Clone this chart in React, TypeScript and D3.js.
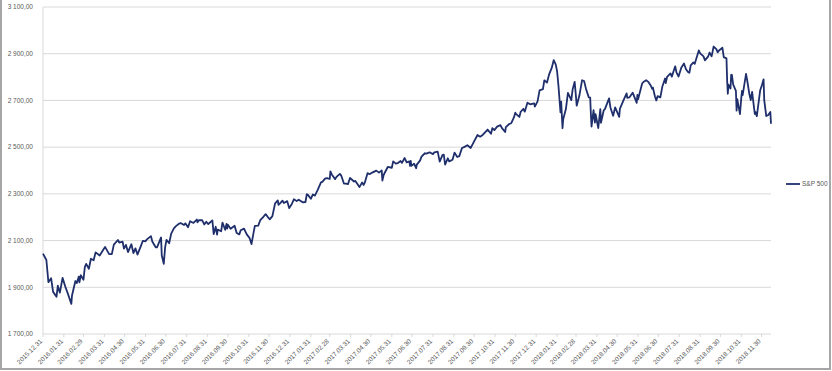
import React from "react";
import * as d3 from "d3";

// S&P 500 closes (selected trading days)
const seriesName = "S&P 500";
const start: [string, number] = ["2015-12-31", 2043.94];

const y2016: [string, number][] = [
  ["01-05", 2016.71], ["01-08", 1922.03], ["01-12", 1938.68], ["01-15", 1880.33], ["01-20", 1859.33], ["01-22", 1906.9], ["01-25", 1877.08], ["01-29", 1940.24],
  ["02-02", 1903.03], ["02-05", 1880.05], ["02-11", 1829.08], ["02-12", 1864.78], ["02-17", 1926.82], ["02-19", 1917.78], ["02-22", 1945.5], ["02-23", 1921.27], ["02-25", 1951.7], ["02-29", 1932.23],
  ["03-02", 1986.45], ["03-04", 1999.99], ["03-08", 1979.26], ["03-11", 2022.19], ["03-15", 2015.93], ["03-18", 2049.58], ["03-24", 2035.94], ["03-30", 2063.95],
  ["04-01", 2072.78], ["04-07", 2041.91], ["04-11", 2041.99], ["04-14", 2082.78], ["04-20", 2102.4], ["04-22", 2091.58], ["04-27", 2095.15], ["04-29", 2065.3],
  ["05-02", 2081.43], ["05-05", 2050.63], ["05-10", 2084.39], ["05-13", 2046.61], ["05-16", 2066.66], ["05-19", 2040.04], ["05-24", 2076.06], ["05-27", 2099.06], ["05-31", 2096.95],
  ["06-02", 2105.26], ["06-08", 2119.12], ["06-10", 2096.07], ["06-15", 2071.5], ["06-17", 2071.22], ["06-23", 2113.32], ["06-24", 2037.41], ["06-27", 2000.54], ["06-29", 2070.77],
  ["07-01", 2102.95], ["07-05", 2088.55], ["07-08", 2129.9], ["07-12", 2152.14], ["07-15", 2161.74], ["07-20", 2173.02], ["07-22", 2175.03], ["07-27", 2166.58], ["07-29", 2173.6],
  ["08-02", 2157.03], ["08-05", 2182.87], ["08-10", 2175.49], ["08-15", 2190.15], ["08-16", 2178.15], ["08-18", 2187.02], ["08-23", 2186.9], ["08-26", 2169.04], ["08-29", 2180.38],
  ["09-01", 2170.86], ["09-07", 2186.16], ["09-09", 2127.81], ["09-12", 2159.04], ["09-14", 2125.77], ["09-15", 2147.26], ["09-20", 2139.76], ["09-22", 2177.18], ["09-26", 2146.1], ["09-28", 2171.37], ["09-29", 2151.13], ["09-30", 2168.27],
  ["10-04", 2150.49], ["10-10", 2163.66], ["10-13", 2132.55], ["10-17", 2126.5], ["10-19", 2144.29], ["10-24", 2151.33], ["10-28", 2126.41],
  ["11-01", 2111.72], ["11-04", 2085.18], ["11-07", 2131.52], ["11-09", 2163.26], ["11-14", 2164.2], ["11-17", 2187.12], ["11-22", 2202.94], ["11-25", 2213.35], ["11-28", 2201.72],
  ["12-01", 2191.08], ["12-05", 2204.71], ["12-09", 2259.53], ["12-13", 2271.72], ["12-14", 2253.28], ["12-16", 2258.07], ["12-20", 2270.76], ["12-22", 2260.96], ["12-27", 2268.88], ["12-30", 2238.83],
];

const y2017: [string, number][] = [
  ["01-03", 2257.83], ["01-06", 2276.98], ["01-10", 2268.9], ["01-13", 2274.64], ["01-19", 2263.69], ["01-23", 2265.2], ["01-25", 2298.37], ["01-27", 2294.69], ["01-31", 2278.87],
  ["02-03", 2297.42], ["02-06", 2292.56], ["02-10", 2316.1], ["02-15", 2349.25], ["02-17", 2351.16], ["02-21", 2365.38], ["02-24", 2367.34], ["02-28", 2363.64],
  ["03-01", 2395.96], ["03-03", 2383.12], ["03-08", 2362.98], ["03-10", 2372.6], ["03-15", 2385.26], ["03-17", 2378.25], ["03-21", 2344.02], ["03-24", 2343.98], ["03-27", 2341.59], ["03-30", 2368.06],
  ["04-05", 2352.95], ["04-07", 2355.54], ["04-13", 2328.95], ["04-17", 2349.01], ["04-19", 2338.17], ["04-21", 2348.69], ["04-25", 2388.61], ["04-28", 2384.2],
  ["05-02", 2391.17], ["05-08", 2399.38], ["05-12", 2390.9], ["05-16", 2400.67], ["05-17", 2357.03], ["05-19", 2381.73], ["05-25", 2415.07], ["05-31", 2411.8],
  ["06-02", 2439.07], ["06-06", 2429.33], ["06-09", 2431.77], ["06-13", 2440.35], ["06-15", 2432.46], ["06-19", 2453.46], ["06-22", 2434.5], ["06-26", 2439.07], ["06-27", 2419.38], ["06-28", 2440.69], ["06-29", 2419.7],
  ["07-03", 2429.01], ["07-06", 2409.75], ["07-07", 2425.18], ["07-12", 2443.25], ["07-14", 2459.27], ["07-19", 2473.83], ["07-21", 2472.54], ["07-26", 2477.83], ["07-31", 2470.3],
  ["08-02", 2477.57], ["08-07", 2480.91], ["08-10", 2438.21], ["08-14", 2465.84], ["08-16", 2468.11], ["08-18", 2425.55], ["08-22", 2452.51], ["08-24", 2438.97], ["08-29", 2446.3],
  ["09-01", 2476.55], ["09-05", 2457.85], ["09-08", 2461.43], ["09-12", 2496.48], ["09-15", 2500.23], ["09-20", 2508.24], ["09-25", 2496.66], ["09-29", 2519.36],
  ["10-05", 2552.07], ["10-09", 2544.73], ["10-13", 2553.17], ["10-20", 2575.21], ["10-25", 2557.15], ["10-27", 2581.07], ["10-30", 2572.83],
  ["11-03", 2587.84], ["11-08", 2594.38], ["11-10", 2582.3], ["11-15", 2564.62], ["11-16", 2585.64], ["11-21", 2599.03], ["11-24", 2602.42], ["11-28", 2627.04], ["11-30", 2647.58],
  ["12-01", 2642.22], ["12-06", 2629.27], ["12-08", 2651.5], ["12-12", 2664.11], ["12-14", 2652.01], ["12-18", 2690.16], ["12-22", 2683.34], ["12-28", 2687.54], ["12-29", 2673.61],
];

const y2018: [string, number][] = [
  ["01-02", 2695.81], ["01-05", 2743.15], ["01-10", 2748.23], ["01-12", 2786.24], ["01-16", 2776.42], ["01-19", 2810.3], ["01-23", 2839.13], ["01-26", 2872.87], ["01-29", 2853.53], ["01-31", 2823.81],
  ["02-02", 2762.13], ["02-05", 2648.94], ["02-06", 2695.14], ["02-08", 2581.0], ["02-09", 2619.55], ["02-13", 2662.94], ["02-16", 2732.22], ["02-21", 2701.33], ["02-23", 2747.3], ["02-26", 2779.6], ["02-28", 2713.83],
  ["03-01", 2677.67], ["03-05", 2720.94], ["03-09", 2786.57], ["03-12", 2783.02], ["03-15", 2747.33], ["03-19", 2712.92], ["03-21", 2711.93], ["03-22", 2643.69], ["03-23", 2588.26], ["03-26", 2658.55], ["03-28", 2605.0], ["03-29", 2640.87],
  ["04-02", 2581.88], ["04-05", 2662.84], ["04-06", 2604.47], ["04-10", 2656.87], ["04-12", 2663.99], ["04-18", 2708.64], ["04-20", 2670.14], ["04-24", 2634.56], ["04-27", 2669.91],
  ["05-03", 2629.73], ["05-04", 2663.42], ["05-09", 2697.79], ["05-14", 2730.13], ["05-15", 2711.45], ["05-18", 2712.97], ["05-23", 2733.29], ["05-29", 2689.86], ["05-30", 2724.01], ["05-31", 2705.27],
  ["06-06", 2772.35], ["06-08", 2779.03], ["06-12", 2786.85], ["06-15", 2779.66], ["06-19", 2762.59], ["06-21", 2749.76], ["06-22", 2754.88], ["06-25", 2717.07], ["06-27", 2699.63], ["06-29", 2718.37],
  ["07-03", 2713.22], ["07-06", 2759.82], ["07-10", 2793.84], ["07-11", 2774.02], ["07-13", 2801.31], ["07-18", 2815.62], ["07-20", 2801.83], ["07-25", 2846.07], ["07-27", 2818.82], ["07-30", 2802.6],
  ["08-03", 2840.35], ["08-07", 2858.45], ["08-10", 2833.28], ["08-13", 2821.93], ["08-15", 2818.37], ["08-17", 2850.13], ["08-21", 2862.96], ["08-23", 2856.98], ["08-29", 2914.04], ["08-31", 2901.52],
  ["09-05", 2888.6], ["09-07", 2871.68], ["09-12", 2888.92], ["09-14", 2904.98], ["09-17", 2888.8], ["09-20", 2930.75], ["09-24", 2919.37], ["09-26", 2905.97], ["09-28", 2913.98],
  ["10-03", 2925.51], ["10-05", 2885.57], ["10-09", 2880.34], ["10-10", 2785.68], ["10-11", 2728.37], ["10-12", 2767.13], ["10-15", 2750.79], ["10-16", 2809.92], ["10-17", 2809.21], ["10-19", 2767.78], ["10-23", 2740.69], ["10-24", 2656.1], ["10-25", 2705.57], ["10-29", 2641.25], ["10-31", 2711.74],
  ["11-01", 2740.37], ["11-02", 2723.06], ["11-07", 2813.89], ["11-09", 2781.01], ["11-12", 2726.22], ["11-14", 2701.58], ["11-16", 2736.27], ["11-20", 2641.89], ["11-21", 2649.93], ["11-23", 2632.56], ["11-28", 2743.79], ["11-30", 2760.17],
  ["12-03", 2790.37], ["12-04", 2700.06], ["12-07", 2633.08], ["12-10", 2637.72], ["12-13", 2650.54], ["12-14", 2599.95],
];

const yTicks = [1700, 1900, 2100, 2300, 2500, 2700, 2900, 3100];

const monthLabels = [
  "2015.12.31",
  "2016.01.31", "2016.02.29", "2016.03.31", "2016.04.30", "2016.05.31", "2016.06.30",
  "2016.07.31", "2016.08.31", "2016.09.30", "2016.10.31", "2016.11.30", "2016.12.31",
  "2017.01.31", "2017.02.28", "2017.03.31", "2017.04.30", "2017.05.31", "2017.06.30",
  "2017.07.31", "2017.08.31", "2017.09.30", "2017.10.31", "2017.11.30", "2017.12.31",
  "2018.01.31", "2018.02.28", "2018.03.31", "2018.04.30", "2018.05.31", "2018.06.30",
  "2018.07.31", "2018.08.31", "2018.09.30", "2018.10.31", "2018.11.30",
];

const width = 832;
const height = 371;
const margin = { top: 7, right: 61, bottom: 37, left: 43 };
const font = "'Liberation Sans', Arial, sans-serif";
const lineColor = "#1f2f6b";
const gridColor = "#d9d9d9";
const textColor = "#595959";

const parseDay = d3.timeParse("%Y-%m-%d");
const parseLabel = d3.timeParse("%Y.%m.%d");

const huLocale = d3.formatLocale({
  decimal: ",",
  thousands: " ",
  grouping: [3],
  currency: ["", ""],
});
const fmt = huLocale.format(",.2f");

export default function App() {
  const data: [Date, number][] = [
    [parseDay(start[0]) as Date, start[1]],
    ...y2016.map(([d, v]) => [parseDay("2016-" + d) as Date, v] as [Date, number]),
    ...y2017.map(([d, v]) => [parseDay("2017-" + d) as Date, v] as [Date, number]),
    ...y2018.map(([d, v]) => [parseDay("2018-" + d) as Date, v] as [Date, number]),
  ];

  const x = d3
    .scaleTime()
    .domain([data[0][0], data[data.length - 1][0]])
    .range([margin.left, width - margin.right]);

  const y = d3
    .scaleLinear()
    .domain([1700, 3100])
    .range([height - margin.bottom, margin.top]);

  const line = d3
    .line<[Date, number]>()
    .x((d) => x(d[0]))
    .y((d) => y(d[1]));

  const axisY = height - margin.bottom;

  return (
    <div style={{ position: "absolute", left: 0, top: 0 }}>
      <svg width={width} height={height} style={{ display: "block", background: "#fff" }}>
        {/* frame */}
        <rect x={1} y={-2} width={829} height={371} fill="none" stroke="#a6a6a6" strokeWidth={2} />

        {/* grid */}
        {yTicks.map((t) => (
          <line key={t} x1={margin.left} x2={width - margin.right} y1={y(t)} y2={y(t)} stroke={gridColor} strokeWidth={1} />
        ))}
        <line x1={margin.left} x2={margin.left} y1={y(3100)} y2={axisY} stroke={gridColor} strokeWidth={1} />

        {/* y labels */}
        {yTicks.map((t) => (
          <text key={t} x={33} y={y(t)} dy="0.35em" textAnchor="end" fontFamily={font} fontSize={6.5} fill={textColor}>
            {fmt(t)}
          </text>
        ))}

        {/* x ticks + labels */}
        {monthLabels.map((lab) => {
          const px = x(parseLabel(lab) as Date);
          return (
            <g key={lab}>
              <line x1={px} x2={px} y1={axisY} y2={axisY + 3} stroke={gridColor} />
              <text
                transform={`translate(${px - 2},${axisY + 6}) rotate(-45)`}
                dy="0.35em"
                textAnchor="end"
                fontFamily={font}
                fontSize={6.5}
                fill={textColor}
              >
                {lab}
              </text>
            </g>
          );
        })}

        {/* series */}
        <path d={line(data) ?? ""} fill="none" stroke={lineColor} strokeWidth={1.8} strokeLinejoin="round" />

        {/* legend */}
        <line x1={786} x2={800} y1={184} y2={184} stroke={lineColor} strokeWidth={1.8} />
        <text x={802} y={184} dy="0.35em" fontFamily={font} fontSize={6.5} fill={textColor}>
          {seriesName}
        </text>
      </svg>
    </div>
  );
}
